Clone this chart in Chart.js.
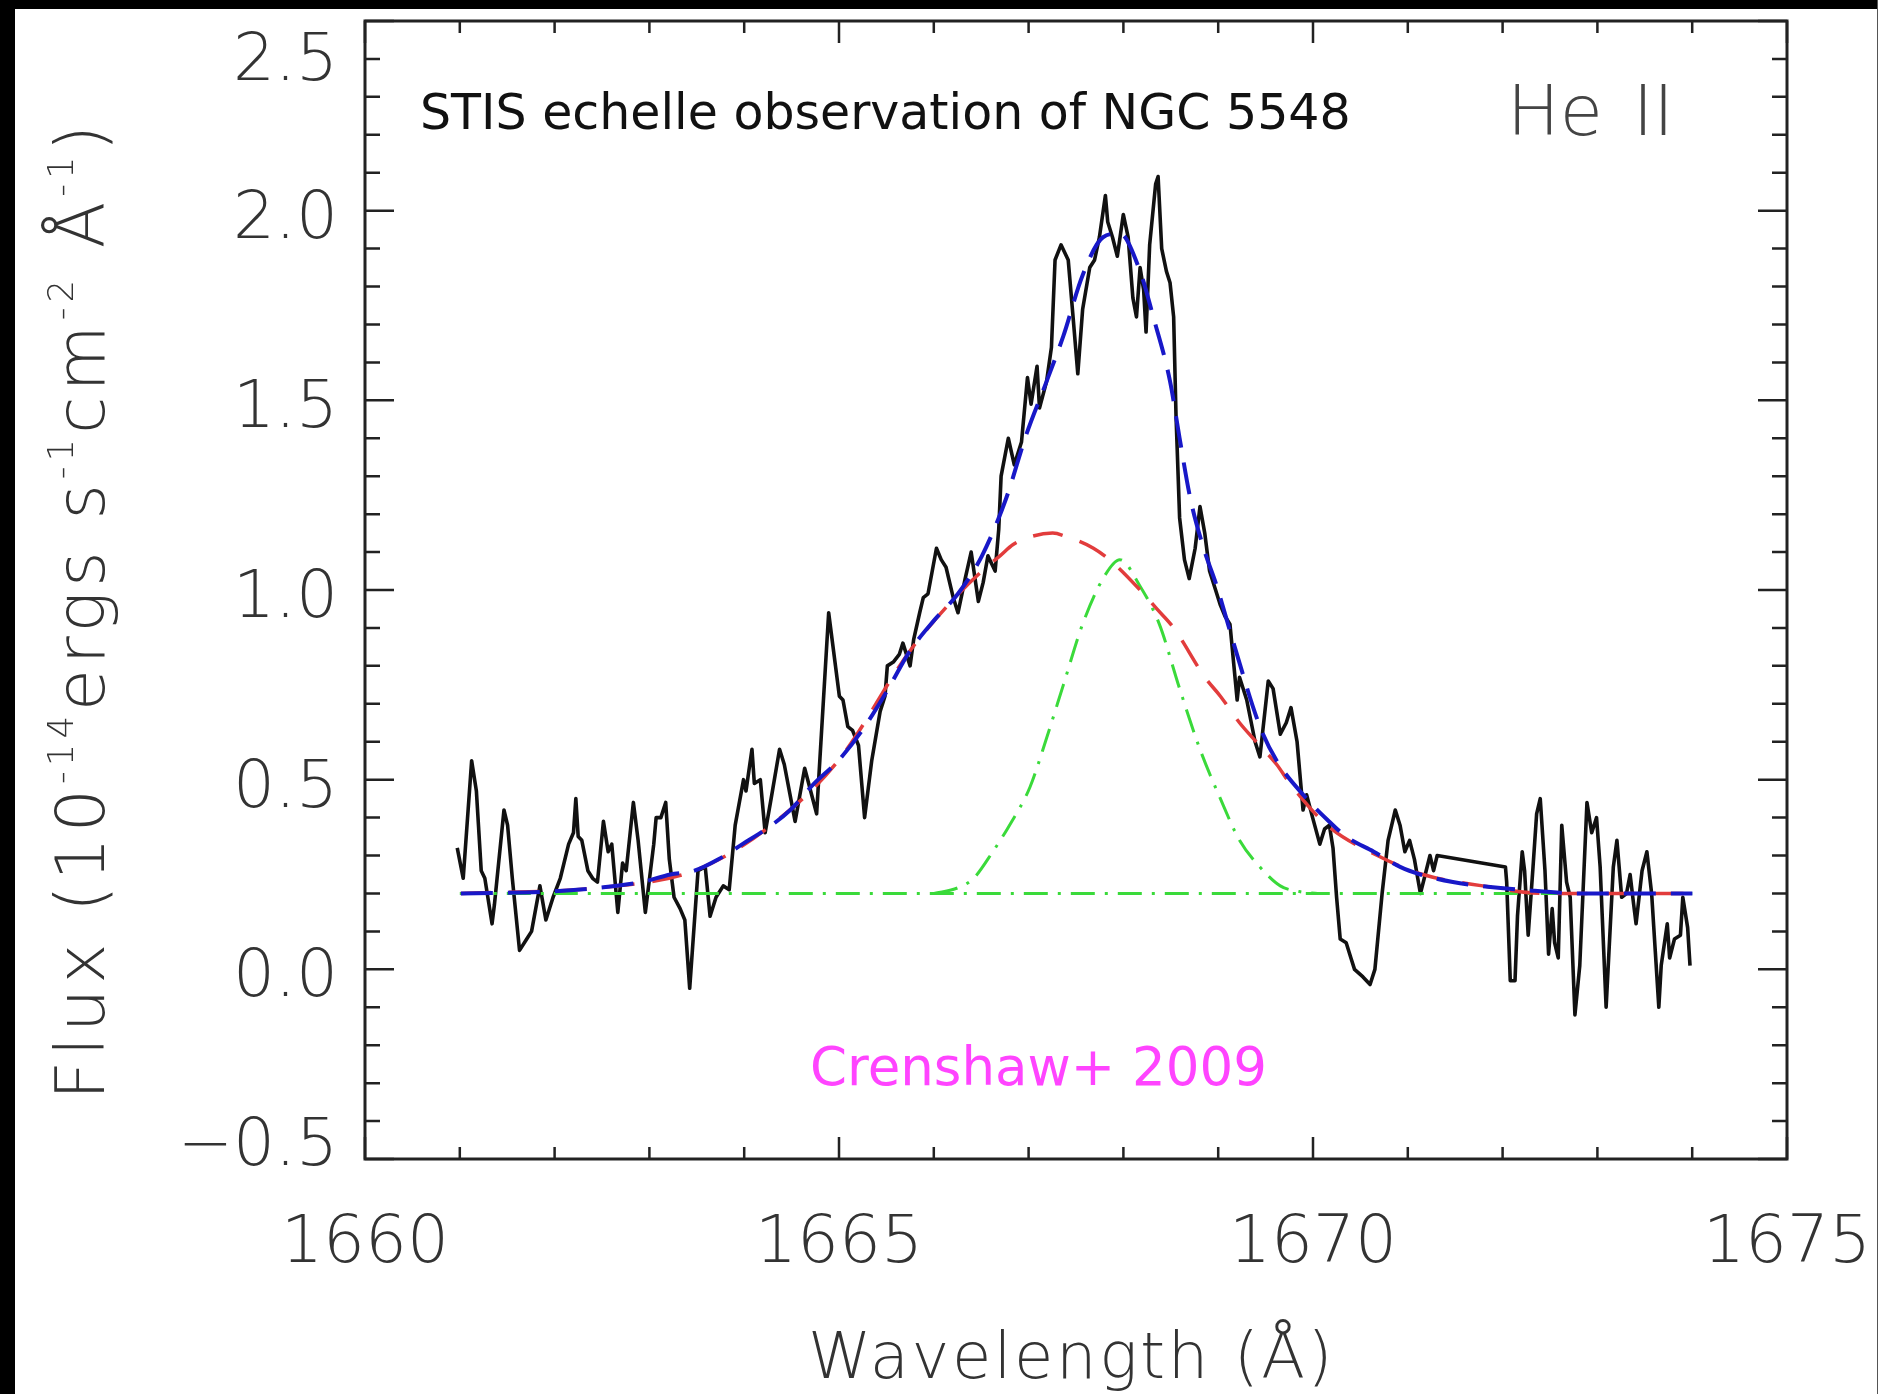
<!DOCTYPE html>
<html>
<head>
<meta charset="utf-8">
<script src="https://cdn.jsdelivr.net/npm/chart.js@4.4.1/dist/chart.umd.min.js"></script>
<style>
  html, body { margin: 0; padding: 0; background: #fff; }
  #wrap { position: relative; width: 1878px; height: 1394px; overflow: hidden; background: #fff; }
  #spec { position: absolute; left: 0; top: 0; }
  .edge { position: absolute; background: #000; }
</style>
</head>
<body>
<div id="wrap">
  <canvas id="spec" width="1878" height="1394"></canvas>
  <div class="edge" style="left:0;top:0;width:1878px;height:9px"></div>
  <div class="edge" style="left:0;top:0;width:15px;height:1394px"></div>
  <div class="edge" style="left:1877px;top:0;width:1px;height:1394px;background:#555"></div>
</div>
<script>
// observed spectrum (Angstrom, 1e-14 erg/s/cm2/A)
const wavelength = [
  1660.973, 1661.036, 1661.125, 1661.175, 1661.226, 1661.264, 1661.340, 1661.365, 1661.466, 1661.504,
  1661.554, 1661.630, 1661.706, 1661.757, 1661.845, 1661.908, 1661.984, 1662.060, 1662.148, 1662.199,
  1662.224, 1662.249, 1662.287, 1662.351, 1662.401, 1662.452, 1662.515, 1662.565, 1662.603, 1662.667,
  1662.717, 1662.755, 1662.831, 1662.881, 1662.957, 1663.046, 1663.071, 1663.121, 1663.172, 1663.210,
  1663.260, 1663.324, 1663.374, 1663.425, 1663.513, 1663.589, 1663.640, 1663.703, 1663.779, 1663.842,
  1663.905, 1663.993, 1664.019, 1664.082, 1664.107, 1664.170, 1664.221, 1664.284, 1664.373, 1664.423,
  1664.537, 1664.638, 1664.764, 1664.891, 1665.004, 1665.042, 1665.093, 1665.143, 1665.206, 1665.270,
  1665.345, 1665.434, 1665.485, 1665.510, 1665.573, 1665.636, 1665.674, 1665.750, 1665.788, 1665.851,
  1665.889, 1665.939, 1666.028, 1666.078, 1666.129, 1666.205, 1666.255, 1666.331, 1666.394, 1666.470,
  1666.521, 1666.571, 1666.647, 1666.685, 1666.710, 1666.786, 1666.849, 1666.925, 1666.988, 1667.026,
  1667.089, 1667.115, 1667.190, 1667.241, 1667.279, 1667.342, 1667.418, 1667.469, 1667.519, 1667.570,
  1667.645, 1667.696, 1667.747, 1667.810, 1667.835, 1667.885, 1667.936, 1667.999, 1668.050, 1668.100,
  1668.138, 1668.176, 1668.214, 1668.239, 1668.277, 1668.340, 1668.366, 1668.404, 1668.454, 1668.492,
  1668.530, 1668.555, 1668.593, 1668.644, 1668.694, 1668.757, 1668.808, 1668.858, 1668.909, 1668.985,
  1669.023, 1669.073, 1669.124, 1669.200, 1669.225, 1669.301, 1669.389, 1669.440, 1669.528, 1669.579,
  1669.655, 1669.718, 1669.768, 1669.832, 1669.895, 1669.933, 1669.996, 1670.072, 1670.122, 1670.173,
  1670.211, 1670.249, 1670.287, 1670.350, 1670.400, 1670.438, 1670.527, 1670.602, 1670.653, 1670.729,
  1670.792, 1670.868, 1670.918, 1670.969, 1671.019, 1671.070, 1671.133, 1671.184, 1671.234, 1671.272,
  1671.310, 1672.030, 1672.043, 1672.081, 1672.131, 1672.157, 1672.207, 1672.232, 1672.270, 1672.321,
  1672.359, 1672.397, 1672.447, 1672.485, 1672.523, 1672.549, 1672.587, 1672.624, 1672.675, 1672.713,
  1672.763, 1672.814, 1672.890, 1672.940, 1672.991, 1673.029, 1673.092, 1673.168, 1673.206, 1673.256,
  1673.307, 1673.345, 1673.383, 1673.408, 1673.471, 1673.522, 1673.572, 1673.648, 1673.673, 1673.737,
  1673.762, 1673.813, 1673.876, 1673.901, 1673.952, 1673.977
];
const flux = [
  0.32, 0.24, 0.55, 0.47, 0.26, 0.24, 0.12, 0.17, 0.42, 0.38,
  0.24, 0.05, 0.08, 0.10, 0.22, 0.13, 0.19, 0.24, 0.33, 0.36,
  0.45, 0.35, 0.34, 0.26, 0.24, 0.23, 0.39, 0.31, 0.33, 0.15,
  0.28, 0.26, 0.44, 0.34, 0.15, 0.33, 0.40, 0.40, 0.44, 0.29,
  0.19, 0.16, 0.13, -0.05, 0.26, 0.27, 0.14, 0.19, 0.22, 0.21,
  0.38, 0.50, 0.47, 0.58, 0.49, 0.50, 0.36, 0.45, 0.58, 0.54,
  0.39, 0.53, 0.41, 0.94, 0.72, 0.71, 0.64, 0.63, 0.59, 0.40,
  0.55, 0.68, 0.72, 0.80, 0.81, 0.83, 0.86, 0.80, 0.87, 0.94,
  0.98, 0.99, 1.11, 1.08, 1.06, 0.98, 0.94, 1.03, 1.10, 0.97,
  1.02, 1.09, 1.05, 1.16, 1.30, 1.40, 1.33, 1.39, 1.56, 1.49,
  1.59, 1.48, 1.55, 1.64, 1.87, 1.91, 1.87, 1.72, 1.57, 1.74,
  1.85, 1.87, 1.93, 2.04, 1.97, 1.93, 1.88, 1.99, 1.93, 1.77,
  1.72, 1.85, 1.79, 1.68, 1.91, 2.07, 2.09, 1.90, 1.84, 1.81,
  1.72, 1.46, 1.19, 1.08, 1.03, 1.11, 1.22, 1.15, 1.05, 0.99,
  0.96, 0.93, 0.91, 0.71, 0.77, 0.71, 0.60, 0.56, 0.76, 0.74,
  0.62, 0.65, 0.69, 0.60, 0.42, 0.46, 0.40, 0.33, 0.37, 0.38,
  0.32, 0.19, 0.08, 0.07, 0.03, 0.00, -0.02, -0.04, 0.00, 0.20,
  0.34, 0.42, 0.38, 0.31, 0.34, 0.29, 0.20, 0.25, 0.30, 0.26,
  0.30, 0.27, 0.23, -0.03, -0.03, 0.14, 0.31, 0.26, 0.09, 0.27,
  0.41, 0.45, 0.26, 0.04, 0.16, 0.07, 0.03, 0.38, 0.23, 0.19,
  -0.12, 0.01, 0.44, 0.36, 0.40, 0.27, -0.10, 0.27, 0.34, 0.19,
  0.20, 0.25, 0.17, 0.12, 0.26, 0.31, 0.20, -0.10, 0.01, 0.12,
  0.03, 0.08, 0.09, 0.19, 0.11, 0.01
];

// total model (blue)
const fitWave = [
  1661.011, 1661.959, 1662.464, 1662.919, 1663.222, 1663.475, 1663.728, 1663.981, 1664.233, 1664.486,
  1664.739, 1664.992, 1665.244, 1665.497, 1665.750, 1666.003, 1666.255, 1666.508, 1666.761, 1666.976,
  1667.190, 1667.367, 1667.570, 1667.785, 1667.962, 1668.176, 1668.315, 1668.492, 1668.593, 1668.707,
  1668.846, 1668.985, 1669.162, 1669.440, 1669.617, 1669.933, 1670.148, 1670.350, 1670.641, 1670.919,
  1671.133, 1671.475, 1671.766, 1672.195, 1672.827, 1674.002
];
const fitFlux = [
  0.20, 0.205, 0.215, 0.23, 0.25, 0.26, 0.29, 0.33, 0.37, 0.42,
  0.49, 0.55, 0.63, 0.73, 0.84, 0.92, 0.99, 1.09, 1.24, 1.41,
  1.55, 1.67, 1.83, 1.93, 1.94, 1.84, 1.72, 1.55, 1.40, 1.24,
  1.11, 1.01, 0.86, 0.64, 0.55, 0.45, 0.395, 0.35, 0.31, 0.27,
  0.25, 0.23, 0.22, 0.21, 0.20, 0.20
];

// broad component + continuum (red)
const broadWave = [
  1661.011, 1662.464, 1663.475, 1664.233, 1664.992, 1665.750, 1666.243, 1666.508, 1666.698, 1666.837,
  1667.014, 1667.254, 1667.406, 1667.684, 1667.898, 1668.176, 1668.353, 1668.530, 1668.859, 1669.023,
  1669.225, 1669.364, 1669.617, 1669.756, 1670.148, 1670.679, 1671.159, 1671.791, 1672.448, 1674.002
];
const broadFlux = [
  0.20, 0.215, 0.26, 0.37, 0.55, 0.84, 0.985, 1.05, 1.09, 1.12,
  1.14, 1.15, 1.14, 1.11, 1.07, 1.00, 0.95, 0.90, 0.77, 0.72,
  0.65, 0.61, 0.54, 0.49, 0.38, 0.30, 0.25, 0.22, 0.20, 0.20
];

// narrow component + continuum (green)
const narrowWave = [
  1666.003, 1666.255, 1666.420, 1666.622, 1666.799, 1667.014, 1667.190, 1667.367, 1667.570, 1667.785,
  1667.962, 1668.176, 1668.379, 1668.593, 1668.808, 1669.023, 1669.225, 1669.440, 1669.655, 1669.857,
  1670.047
];
const narrowFlux = [
  0.20, 0.215, 0.24, 0.31, 0.38, 0.48, 0.61, 0.75, 0.91, 1.03,
  1.08, 1.01, 0.91, 0.74, 0.58, 0.45, 0.34, 0.27, 0.22, 0.205,
  0.20
];

// continuum level
const contWave = [1661.0, 1674.0];
const contFlux = [0.20, 0.20];

const xTickValues = [1660, 1665, 1670, 1675];
const xTickLabels = ['1660', '1665', '1670', '1675'];
const yTickValues = [-0.5, 0, 0.5, 1.0, 1.5, 2.0, 2.5];
const yTickLabels = ['\u22120.5', '0.0', '0.5', '1.0', '1.5', '2.0', '2.5'];

const yTitle = [['Flux (10', false], ['-14', true], ['ergs s', false], ['-1', true], ['cm', false], ['-2', true], [' \u00c5', false], ['-1', true], [')', false]];
const xTitle = 'Wavelength (\u00c5)';
const lineName = ['He', 'II'];
const topNote = 'STIS echelle observation of NGC 5548';
const refNote = 'Crenshaw+ 2009';

const toPoints = (xs, ys) => xs.map((x, i) => ({ x: x, y: ys[i] }));
const thinFont = size => `200 ${size}px "DejaVu Sans", sans-serif`;

// draws a run of normal / superscript pieces along the baseline, spread to a given length
const drawRich = (ctx, segs, size, length) => {
  const sup = size * 0.52;
  ctx.letterSpacing = '0px';
  let raw = 0, count = 0;
  segs.forEach(([t, s]) => {
    ctx.font = thinFont(s ? sup : size);
    raw += ctx.measureText(t).width;
    count += t.length;
  });
  const gap = (length - raw) / count;
  let cx = 0;
  segs.forEach(([t, s]) => {
    ctx.font = thinFont(s ? sup : size);
    ctx.letterSpacing = '0px';
    const w = ctx.measureText(t).width + gap * t.length;
    ctx.letterSpacing = gap + 'px';
    ctx.fillText(t, cx, s ? -size * 0.45 : 0);
    cx += w;
  });
  ctx.letterSpacing = '0px';
};

// box, inward ticks, labels and notes
const framePlugin = {
  id: 'idlFrame',
  afterDraw(chart) {
    const { ctx, chartArea: a, scales: { x, y } } = chart;
    ctx.save();
    ctx.strokeStyle = '#222';
    ctx.lineWidth = 3;
    ctx.strokeRect(a.left, a.top, a.right - a.left, a.bottom - a.top);

    ctx.lineWidth = 2.5;
    ctx.beginPath();
    for (let v = 1660; v <= 1675; v++) {
      const px = x.getPixelForValue(v);
      const len = v % 5 === 0 ? 22 : 12;
      ctx.moveTo(px, a.bottom); ctx.lineTo(px, a.bottom - len);
      ctx.moveTo(px, a.top); ctx.lineTo(px, a.top + len);
    }
    for (let i = -5; i <= 25; i++) {
      const py = y.getPixelForValue(i / 10);
      const len = i % 5 === 0 ? 29 : 15;
      ctx.moveTo(a.left, py); ctx.lineTo(a.left + len, py);
      ctx.moveTo(a.right, py); ctx.lineTo(a.right - len, py);
    }
    ctx.stroke();

    // tick labels
    ctx.fillStyle = '#333';
    ctx.font = thinFont(66);
    ctx.textBaseline = 'alphabetic';
    ctx.textAlign = 'center';
    xTickValues.forEach((v, i) => ctx.fillText(xTickLabels[i], x.getPixelForValue(v), a.bottom + 103));
    ctx.textAlign = 'right';
    yTickValues.forEach((v, i) => {
      const py = Math.min(Math.max(y.getPixelForValue(v), a.top + 32), a.bottom - 21);
      ctx.fillText(yTickLabels[i], a.left - 27, py + 27);
    });

    // axis titles
    ctx.textAlign = 'left';
    ctx.save();
    ctx.translate(104, 1100);
    ctx.rotate(-Math.PI / 2);
    drawRich(ctx, yTitle, 68, 980);
    ctx.restore();
    ctx.save();
    ctx.translate(808, 1378);
    drawRich(ctx, [[xTitle, false]], 64, 527);
    ctx.restore();

    // line name
    ctx.fillStyle = '#444';
    ctx.font = thinFont(70);
    ctx.textAlign = 'left';
    ctx.fillText(lineName[0], 1507, 135);
    ctx.textAlign = 'right';
    ctx.fillText(lineName[1], 1674, 135);

    // notes
    ctx.textAlign = 'left';
    ctx.fillStyle = '#111';
    ctx.font = '49px "DejaVu Sans", sans-serif';
    ctx.fillText(topNote, 420, 129);
    ctx.fillStyle = '#ff44ff';
    ctx.font = '53px "DejaVu Sans", sans-serif';
    ctx.fillText(refNote, 810, 1085);
    ctx.restore();
  }
};

const noPoints = { pointRadius: 0, pointHoverRadius: 0, fill: false };

new Chart(document.getElementById('spec'), {
  type: 'line',
  data: {
    datasets: [
      { data: toPoints(wavelength, flux), borderColor: '#111', borderWidth: 3.6, tension: 0, borderJoinStyle: 'round', order: 5, ...noPoints },
      { data: toPoints(contWave, contFlux), borderColor: '#3ada3a', borderWidth: 3, borderDash: [24, 10, 3, 10], order: 4, ...noPoints },
      { data: toPoints(narrowWave, narrowFlux), borderColor: '#3ada3a', borderWidth: 3, borderDash: [24, 10, 3, 10], cubicInterpolationMode: 'monotone', order: 3, ...noPoints },
      { data: toPoints(broadWave, broadFlux), borderColor: '#e23c3c', borderWidth: 3.5, borderDash: [30, 18], cubicInterpolationMode: 'monotone', order: 2, ...noPoints },
      { data: toPoints(fitWave, fitFlux), borderColor: '#1818c8', borderWidth: 4, borderDash: [32, 15], cubicInterpolationMode: 'monotone', order: 1, ...noPoints }
    ]
  },
  options: {
    responsive: false,
    devicePixelRatio: 1,
    animation: false,
    layout: { padding: { top: 21, right: 91, left: 0, bottom: 0 } },
    plugins: { legend: { display: false }, tooltip: { enabled: false } },
    scales: {
      x: {
        type: 'linear', min: 1660, max: 1675,
        grid: { display: false }, border: { display: false }, ticks: { display: false },
        afterFit(s) { s.height = 235; }
      },
      y: {
        type: 'linear', min: -0.5, max: 2.5,
        grid: { display: false }, border: { display: false }, ticks: { display: false },
        afterFit(s) { s.width = 365; }
      }
    }
  },
  plugins: [framePlugin]
});
</script>
</body>
</html>
